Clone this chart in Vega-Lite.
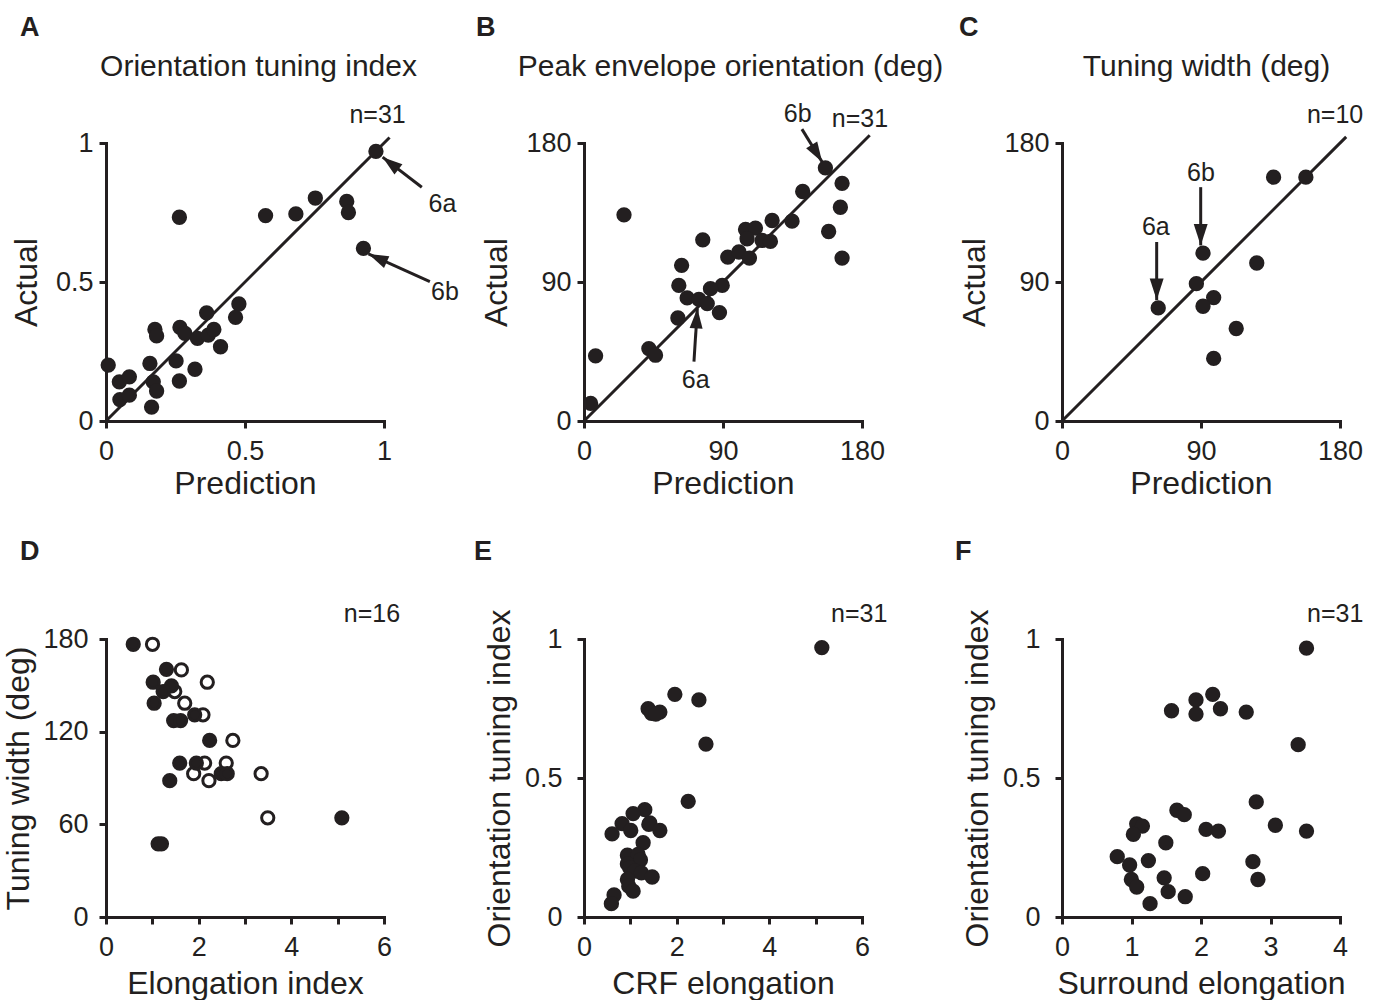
{
  "$schema": "https://vega.github.io/schema/vega-lite/v6.json",
  "padding": {"left": 2, "top": 14, "right": 5, "bottom": 5},
  "background": "white",
  "bounds": "flush",
  "columns": 3,
  "spacing": {"row": 218, "column": 200},
  "config": {
    "font": "Liberation Sans",
    "view": {"stroke": null},
    "axis": {
      "grid": false,
      "domainColor": "#231f20", "domainWidth": 3, "domainCap": "square",
      "tickColor": "#231f20", "tickWidth": 3, "tickSize": 7,
      "labelFont": "Liberation Sans", "labelFontSize": 27, "labelColor": "#231f20",
      "labelFlush": false, "labelOverlap": false,
      "titleFont": "Liberation Sans", "titleFontSize": 32, "titleFontWeight": "normal", "titleColor": "#231f20"
    },
    "axisX": {"labelPadding": 10, "titlePadding": 4},
    "axisY": {"labelPadding": 6, "titlePadding": 12},
    "title": {"anchor": "start", "frame": "group", "font": "Liberation Sans", "fontSize": 27, "fontWeight": "bold", "color": "#231f20", "baseline": "alphabetic"}
  },
  "concat": [
    {
      "width": 278, "height": 278,
      "title": {"text": "A", "dx": -86, "offset": 9},
      "resolve": {"axis": {"x": "independent", "y": "independent"}},
      "layer": [
        {
          "data": {"values": [{"x": 0, "y": 0}, {"x": 1.02, "y": 1.02}]},
          "mark": {"type": "line", "color": "#231f20", "strokeWidth": 3},
          "encoding": {
            "x": {"field": "x", "type": "quantitative", "scale": {"domain": [0, 1], "nice": false, "zero": false},
                  "axis": {"orient": "top", "title": "Orientation tuning index", "labels": false, "ticks": false, "domain": false, "titlePadding": 62, "titleFontSize": 30, "titleX": 152}},
            "y": {"field": "y", "type": "quantitative", "scale": {"domain": [0, 1], "nice": false, "zero": false}, "axis": null}
          }
        },
        {
          "data": {"values": [
            {"x": 0.971, "y": 0.970}, {"x": 0.264, "y": 0.733}, {"x": 0.574, "y": 0.739}, {"x": 0.683, "y": 0.745},
            {"x": 0.753, "y": 0.802}, {"x": 0.866, "y": 0.790}, {"x": 0.872, "y": 0.750}, {"x": 0.926, "y": 0.621},
            {"x": 0.478, "y": 0.421}, {"x": 0.466, "y": 0.373}, {"x": 0.362, "y": 0.389}, {"x": 0.176, "y": 0.329},
            {"x": 0.182, "y": 0.306}, {"x": 0.266, "y": 0.337}, {"x": 0.284, "y": 0.315}, {"x": 0.329, "y": 0.297},
            {"x": 0.368, "y": 0.309}, {"x": 0.388, "y": 0.329}, {"x": 0.412, "y": 0.267}, {"x": 0.008, "y": 0.201},
            {"x": 0.158, "y": 0.207}, {"x": 0.252, "y": 0.216}, {"x": 0.320, "y": 0.186}, {"x": 0.048, "y": 0.141},
            {"x": 0.084, "y": 0.159}, {"x": 0.170, "y": 0.141}, {"x": 0.182, "y": 0.108}, {"x": 0.264, "y": 0.144},
            {"x": 0.050, "y": 0.077}, {"x": 0.084, "y": 0.093}, {"x": 0.164, "y": 0.050}
          ]},
          "mark": {"type": "point", "filled": true, "size": 235, "color": "#231f20", "opacity": 1},
          "encoding": {
            "x": {"field": "x", "type": "quantitative", "scale": {"domain": [0, 1], "nice": false, "zero": false},
                  "axis": {"orient": "bottom", "title": "Prediction", "values": [0, 0.5, 1], "format": "~g"}},
            "y": {"field": "y", "type": "quantitative", "scale": {"domain": [0, 1], "nice": false, "zero": false},
                  "axis": {"orient": "left", "title": "Actual", "values": [0, 0.5, 1], "format": "~g"}}
          }
        },
        {
          "data": {"values": [
            {"id": "6a", "x": 1.136, "y": 0.841, "x2": 0.995, "y2": 0.949},
            {"id": "6b", "x": 1.165, "y": 0.501, "x2": 0.944, "y2": 0.601}
          ]},
          "mark": {"type": "rule", "color": "#231f20", "strokeWidth": 3},
          "encoding": {
            "x": {"field": "x", "type": "quantitative", "axis": null},
            "y": {"field": "y", "type": "quantitative", "axis": null},
            "x2": {"field": "x2"}, "y2": {"field": "y2"}
          }
        },
        {
          "data": {"values": [{"id": "6a", "x": 0.995, "y": 0.949}]},
          "mark": {"type": "point", "shape": "M0,0L0.65,2L-0.65,2Z", "size": 400, "angle": 307.6, "filled": true, "color": "#231f20", "opacity": 1},
          "encoding": {
            "x": {"field": "x", "type": "quantitative", "axis": null},
            "y": {"field": "y", "type": "quantitative", "axis": null}
          }
        },
        {
          "data": {"values": [{"id": "6b", "x": 0.944, "y": 0.601}]},
          "mark": {"type": "point", "shape": "M0,0L0.65,2L-0.65,2Z", "size": 400, "angle": 294.2, "filled": true, "color": "#231f20", "opacity": 1},
          "encoding": {
            "x": {"field": "x", "type": "quantitative", "axis": null},
            "y": {"field": "y", "type": "quantitative", "axis": null}
          }
        },
        {
          "data": {"values": [
            {"x": 1.21, "y": 0.753, "label": "6a"},
            {"x": 1.219, "y": 0.435, "label": "6b"},
            {"x": 0.977, "y": 1.071, "label": "n=31"}
          ]},
          "mark": {"type": "text", "fontSize": 25, "baseline": "alphabetic", "align": "center", "color": "#231f20", "font": "Liberation Sans"},
          "encoding": {
            "x": {"field": "x", "type": "quantitative", "axis": null},
            "y": {"field": "y", "type": "quantitative", "axis": null},
            "text": {"field": "label"}
          }
        }
      ]
    },
    {
      "width": 278, "height": 278,
      "title": {"text": "B", "dx": -108, "offset": 9},
      "resolve": {"axis": {"x": "independent", "y": "independent"}},
      "layer": [
        {
          "data": {"values": [{"x": 0, "y": 0}, {"x": 185, "y": 185}]},
          "mark": {"type": "line", "color": "#231f20", "strokeWidth": 3},
          "encoding": {
            "x": {"field": "x", "type": "quantitative", "scale": {"domain": [0, 180], "nice": false, "zero": false},
                  "axis": {"orient": "top", "title": "Peak envelope orientation (deg)", "labels": false, "ticks": false, "domain": false, "titlePadding": 62, "titleFontSize": 30, "titleX": 146}},
            "y": {"field": "y", "type": "quantitative", "scale": {"domain": [0, 180], "nice": false, "zero": false}, "axis": null}
          }
        },
        {
          "data": {"values": [
            {"x": 156.3, "y": 163.9}, {"x": 167.1, "y": 153.9}, {"x": 166.0, "y": 138.4}, {"x": 158.4, "y": 122.7},
            {"x": 167.1, "y": 105.5}, {"x": 141.6, "y": 148.6}, {"x": 134.7, "y": 129.4}, {"x": 121.8, "y": 129.8},
            {"x": 104.6, "y": 124.0}, {"x": 111.0, "y": 124.9}, {"x": 105.6, "y": 118.0}, {"x": 115.3, "y": 116.9},
            {"x": 120.7, "y": 116.3}, {"x": 93.1, "y": 106.1}, {"x": 100.3, "y": 109.4}, {"x": 107.1, "y": 105.5},
            {"x": 76.9, "y": 117.3}, {"x": 63.2, "y": 100.8}, {"x": 61.4, "y": 87.8}, {"x": 89.5, "y": 87.8},
            {"x": 81.9, "y": 85.7}, {"x": 66.8, "y": 79.7}, {"x": 74.4, "y": 78.8}, {"x": 79.8, "y": 76.0},
            {"x": 87.7, "y": 70.2}, {"x": 60.8, "y": 66.7}, {"x": 42.0, "y": 46.9}, {"x": 46.3, "y": 42.6},
            {"x": 7.5, "y": 42.2}, {"x": 25.9, "y": 133.5}, {"x": 4.3, "y": 11.4}
          ]},
          "mark": {"type": "point", "filled": true, "size": 235, "color": "#231f20", "opacity": 1},
          "encoding": {
            "x": {"field": "x", "type": "quantitative", "scale": {"domain": [0, 180], "nice": false, "zero": false},
                  "axis": {"orient": "bottom", "title": "Prediction", "values": [0, 90, 180]}},
            "y": {"field": "y", "type": "quantitative", "scale": {"domain": [0, 180], "nice": false, "zero": false},
                  "axis": {"orient": "left", "title": "Actual", "values": [0, 90, 180]}}
          }
        },
        {
          "data": {"values": [
            {"id": "6b", "x": 141.1, "y": 189.0, "x2": 154.2, "y2": 167.7},
            {"id": "6a", "x": 71.2, "y": 38.5, "x2": 73.4, "y2": 72.9}
          ]},
          "mark": {"type": "rule", "color": "#231f20", "strokeWidth": 3},
          "encoding": {
            "x": {"field": "x", "type": "quantitative", "axis": null},
            "y": {"field": "y", "type": "quantitative", "axis": null},
            "x2": {"field": "x2"}, "y2": {"field": "y2"}
          }
        },
        {
          "data": {"values": [{"id": "6b", "x": 154.2, "y": 167.7}]},
          "mark": {"type": "point", "shape": "M0,0L0.65,2L-0.65,2Z", "size": 400, "angle": 148.4, "filled": true, "color": "#231f20", "opacity": 1},
          "encoding": {
            "x": {"field": "x", "type": "quantitative", "axis": null},
            "y": {"field": "y", "type": "quantitative", "axis": null}
          }
        },
        {
          "data": {"values": [{"id": "6a", "x": 73.4, "y": 72.9}]},
          "mark": {"type": "point", "shape": "M0,0L0.65,2L-0.65,2Z", "size": 400, "angle": 3.6, "filled": true, "color": "#231f20", "opacity": 1},
          "encoding": {
            "x": {"field": "x", "type": "quantitative", "axis": null},
            "y": {"field": "y", "type": "quantitative", "axis": null}
          }
        },
        {
          "data": {"values": [
            {"x": 138.4, "y": 193.4, "label": "6b"},
            {"x": 178.7, "y": 190.1, "label": "n=31"},
            {"x": 72.3, "y": 21.3, "label": "6a"}
          ]},
          "mark": {"type": "text", "fontSize": 25, "baseline": "alphabetic", "align": "center", "color": "#231f20", "font": "Liberation Sans"},
          "encoding": {
            "x": {"field": "x", "type": "quantitative", "axis": null},
            "y": {"field": "y", "type": "quantitative", "axis": null},
            "text": {"field": "label"}
          }
        }
      ]
    },
    {
      "width": 278, "height": 278,
      "title": {"text": "C", "dx": -103, "offset": 9},
      "resolve": {"axis": {"x": "independent", "y": "independent"}},
      "layer": [
        {
          "data": {"values": [{"x": 0, "y": 0}, {"x": 184, "y": 184}]},
          "mark": {"type": "line", "color": "#231f20", "strokeWidth": 3},
          "encoding": {
            "x": {"field": "x", "type": "quantitative", "scale": {"domain": [0, 180], "nice": false, "zero": false},
                  "axis": {"orient": "top", "title": "Tuning width (deg)", "labels": false, "ticks": false, "domain": false, "titlePadding": 62, "titleFontSize": 30, "titleX": 144}},
            "y": {"field": "y", "type": "quantitative", "scale": {"domain": [0, 180], "nice": false, "zero": false}, "axis": null}
          }
        },
        {
          "data": {"values": [
            {"x": 137.0, "y": 157.9}, {"x": 157.9, "y": 157.9}, {"x": 91.3, "y": 108.7}, {"x": 126.1, "y": 102.3},
            {"x": 87.0, "y": 88.9}, {"x": 98.2, "y": 79.9}, {"x": 91.3, "y": 74.3}, {"x": 62.3, "y": 73.2},
            {"x": 112.8, "y": 59.9}, {"x": 98.2, "y": 40.5}
          ]},
          "mark": {"type": "point", "filled": true, "size": 235, "color": "#231f20", "opacity": 1},
          "encoding": {
            "x": {"field": "x", "type": "quantitative", "scale": {"domain": [0, 180], "nice": false, "zero": false},
                  "axis": {"orient": "bottom", "title": "Prediction", "values": [0, 90, 180]}},
            "y": {"field": "y", "type": "quantitative", "scale": {"domain": [0, 180], "nice": false, "zero": false},
                  "axis": {"orient": "left", "title": "Actual", "values": [0, 90, 180]}}
          }
        },
        {
          "data": {"values": [
            {"id": "6a", "x": 61.3, "y": 115.9, "x2": 61.3, "y2": 78.3},
            {"id": "6b", "x": 89.8, "y": 151.4, "x2": 89.8, "y2": 113.7}
          ]},
          "layer": [
            {
              "mark": {"type": "rule", "color": "#231f20", "strokeWidth": 3},
              "encoding": {
                "x": {"field": "x", "type": "quantitative", "axis": null},
                "y": {"field": "y", "type": "quantitative", "axis": null},
                "x2": {"field": "x2"}, "y2": {"field": "y2"}
              }
            },
            {
              "mark": {"type": "point", "shape": "M0,0L0.65,2L-0.65,2Z", "size": 460, "angle": 180, "filled": true, "color": "#231f20", "opacity": 1},
              "encoding": {
                "x": {"field": "x2", "type": "quantitative", "axis": null},
                "y": {"field": "y2", "type": "quantitative", "axis": null}
              }
            }
          ]
        },
        {
          "data": {"values": [
            {"x": 60.75, "y": 120.6, "label": "6a"},
            {"x": 90.0, "y": 155.7, "label": "6b"},
            {"x": 176.8, "y": 192.9, "label": "n=10"}
          ]},
          "mark": {"type": "text", "fontSize": 25, "baseline": "alphabetic", "align": "center", "color": "#231f20", "font": "Liberation Sans"},
          "encoding": {
            "x": {"field": "x", "type": "quantitative", "axis": null},
            "y": {"field": "y", "type": "quantitative", "axis": null},
            "text": {"field": "label"}
          }
        }
      ]
    },
    {
      "width": 278, "height": 278,
      "title": {"text": "D", "dx": -86, "offset": 36},
      "resolve": {"axis": {"x": "independent", "y": "independent"}},
      "layer": [
        {
          "data": {"values": [
            {"x": 0.588, "y": 176.6, "kind": "filled"}, {"x": 1.004, "y": 176.6, "kind": "open"},
            {"x": 1.305, "y": 160.4, "kind": "filled"}, {"x": 1.627, "y": 160.0, "kind": "open"},
            {"x": 1.018, "y": 152.0, "kind": "filled"}, {"x": 2.186, "y": 152.0, "kind": "open"},
            {"x": 1.484, "y": 146.0, "kind": "open"}, {"x": 1.412, "y": 149.6, "kind": "filled"},
            {"x": 1.233, "y": 146.0, "kind": "filled"}, {"x": 1.699, "y": 138.4, "kind": "open"},
            {"x": 1.039, "y": 138.4, "kind": "filled"}, {"x": 2.093, "y": 130.9, "kind": "open"},
            {"x": 1.914, "y": 130.9, "kind": "filled"}, {"x": 1.46, "y": 127.2, "kind": "filled"},
            {"x": 1.61, "y": 127.2, "kind": "filled"}, {"x": 2.237, "y": 114.3, "kind": "filled"},
            {"x": 2.738, "y": 114.3, "kind": "open"}, {"x": 2.129, "y": 99.7, "kind": "open"},
            {"x": 2.595, "y": 99.7, "kind": "open"}, {"x": 1.892, "y": 92.8, "kind": "open"},
            {"x": 2.222, "y": 88.3, "kind": "open"}, {"x": 1.591, "y": 99.7, "kind": "filled"},
            {"x": 1.95, "y": 99.7, "kind": "filled"}, {"x": 1.376, "y": 88.3, "kind": "filled"},
            {"x": 2.487, "y": 92.8, "kind": "filled"}, {"x": 2.616, "y": 92.8, "kind": "filled"},
            {"x": 3.348, "y": 92.8, "kind": "open"}, {"x": 3.491, "y": 64.2, "kind": "open"},
            {"x": 5.09, "y": 64.2, "kind": "filled"}, {"x": 1.125, "y": 47.4, "kind": "filled"},
            {"x": 1.197, "y": 47.4, "kind": "filled"}
          ]},
          "mark": {"type": "point", "filled": true, "size": 150, "stroke": "#231f20", "strokeWidth": 3, "opacity": 1},
          "encoding": {
            "x": {"field": "x", "type": "quantitative", "scale": {"domain": [0, 6], "nice": false, "zero": false},
                  "axis": {"orient": "bottom", "title": "Elongation index", "titlePadding": 8, "values": [0, 1, 2, 3, 4, 5, 6], "labelExpr": "datum.value % 2 == 0 ? datum.label : ''"}},
            "y": {"field": "y", "type": "quantitative", "scale": {"domain": [0, 180], "nice": false, "zero": false},
                  "axis": {"orient": "left", "title": "Tuning width (deg)", "labelPadding": 11, "titlePadding": 7, "values": [0, 60, 120, 180]}},
            "fill": {"field": "kind", "type": "nominal", "scale": {"domain": ["filled", "open"], "range": ["#231f20", "#ffffff"]}, "legend": null}
          }
        },
        {
          "data": {"values": [{"x": 5.74, "y": 191.2, "label": "n=16"}]},
          "mark": {"type": "text", "fontSize": 25, "baseline": "alphabetic", "align": "center", "color": "#231f20", "font": "Liberation Sans"},
          "encoding": {
            "x": {"field": "x", "type": "quantitative", "axis": null},
            "y": {"field": "y", "type": "quantitative", "axis": null},
            "text": {"field": "label"}
          }
        }
      ]
    },
    {
      "width": 278, "height": 278,
      "title": {"text": "E", "dx": -110, "offset": 36},
      "resolve": {"axis": {"x": "independent", "y": "independent"}},
      "layer": [
        {
          "data": {"values": [
            {"x": 5.133, "y": 0.969}, {"x": 1.961, "y": 0.801}, {"x": 2.48, "y": 0.781}, {"x": 1.384, "y": 0.749},
            {"x": 1.456, "y": 0.733}, {"x": 1.637, "y": 0.737}, {"x": 1.55, "y": 0.73}, {"x": 2.632, "y": 0.622},
            {"x": 2.249, "y": 0.416}, {"x": 1.312, "y": 0.386}, {"x": 1.06, "y": 0.372}, {"x": 0.822, "y": 0.336},
            {"x": 1.009, "y": 0.311}, {"x": 0.606, "y": 0.299}, {"x": 1.399, "y": 0.333}, {"x": 1.42, "y": 0.338},
            {"x": 1.637, "y": 0.311}, {"x": 1.276, "y": 0.267}, {"x": 0.937, "y": 0.222}, {"x": 1.168, "y": 0.225},
            {"x": 1.218, "y": 0.205}, {"x": 0.937, "y": 0.191}, {"x": 0.988, "y": 0.177}, {"x": 1.096, "y": 0.165},
            {"x": 1.24, "y": 0.159}, {"x": 1.471, "y": 0.144}, {"x": 0.937, "y": 0.135}, {"x": 0.966, "y": 0.111},
            {"x": 1.06, "y": 0.093}, {"x": 0.649, "y": 0.079}, {"x": 0.591, "y": 0.048}
          ]},
          "mark": {"type": "point", "filled": true, "size": 235, "color": "#231f20", "opacity": 1},
          "encoding": {
            "x": {"field": "x", "type": "quantitative", "scale": {"domain": [0, 6], "nice": false, "zero": false},
                  "axis": {"orient": "bottom", "title": "CRF elongation", "titlePadding": 8, "values": [0, 1, 2, 3, 4, 5, 6], "labelExpr": "datum.value % 2 == 0 ? datum.label : ''"}},
            "y": {"field": "y", "type": "quantitative", "scale": {"domain": [0, 1], "nice": false, "zero": false},
                  "axis": {"orient": "left", "title": "Orientation tuning index", "labelPadding": 15, "titlePadding": 8, "values": [0, 0.5, 1], "format": "~g"}}
          }
        },
        {
          "data": {"values": [{"x": 5.94, "y": 1.061, "label": "n=31"}]},
          "mark": {"type": "text", "fontSize": 25, "baseline": "alphabetic", "align": "center", "color": "#231f20", "font": "Liberation Sans"},
          "encoding": {
            "x": {"field": "x", "type": "quantitative", "axis": null},
            "y": {"field": "y", "type": "quantitative", "axis": null},
            "text": {"field": "label"}
          }
        }
      ]
    },
    {
      "width": 278, "height": 278,
      "title": {"text": "F", "dx": -107, "offset": 36},
      "resolve": {"axis": {"x": "independent", "y": "independent"}},
      "layer": [
        {
          "data": {"values": [
            {"x": 3.518, "y": 0.967}, {"x": 2.169, "y": 0.801}, {"x": 1.928, "y": 0.781}, {"x": 2.28, "y": 0.749},
            {"x": 1.928, "y": 0.730}, {"x": 1.576, "y": 0.742}, {"x": 2.651, "y": 0.737}, {"x": 3.398, "y": 0.620},
            {"x": 2.795, "y": 0.414}, {"x": 1.653, "y": 0.384}, {"x": 1.759, "y": 0.368}, {"x": 1.075, "y": 0.335},
            {"x": 1.157, "y": 0.327}, {"x": 1.027, "y": 0.297}, {"x": 2.072, "y": 0.315}, {"x": 2.251, "y": 0.309},
            {"x": 3.07, "y": 0.330}, {"x": 3.518, "y": 0.309}, {"x": 1.494, "y": 0.267}, {"x": 0.795, "y": 0.217},
            {"x": 0.973, "y": 0.187}, {"x": 1.243, "y": 0.203}, {"x": 0.998, "y": 0.135}, {"x": 1.075, "y": 0.108},
            {"x": 1.47, "y": 0.141}, {"x": 1.528, "y": 0.091}, {"x": 1.267, "y": 0.048}, {"x": 1.773, "y": 0.073},
            {"x": 2.024, "y": 0.156}, {"x": 2.747, "y": 0.199}, {"x": 2.819, "y": 0.135}
          ]},
          "mark": {"type": "point", "filled": true, "size": 235, "color": "#231f20", "opacity": 1},
          "encoding": {
            "x": {"field": "x", "type": "quantitative", "scale": {"domain": [0, 4], "nice": false, "zero": false},
                  "axis": {"orient": "bottom", "title": "Surround elongation", "titlePadding": 8, "values": [0, 1, 2, 3, 4]}},
            "y": {"field": "y", "type": "quantitative", "scale": {"domain": [0, 1], "nice": false, "zero": false},
                  "axis": {"orient": "left", "title": "Orientation tuning index", "labelPadding": 15, "titlePadding": 8, "values": [0, 0.5, 1], "format": "~g"}}
          }
        },
        {
          "data": {"values": [{"x": 3.93, "y": 1.061, "label": "n=31"}]},
          "mark": {"type": "text", "fontSize": 25, "baseline": "alphabetic", "align": "center", "color": "#231f20", "font": "Liberation Sans"},
          "encoding": {
            "x": {"field": "x", "type": "quantitative", "axis": null},
            "y": {"field": "y", "type": "quantitative", "axis": null},
            "text": {"field": "label"}
          }
        }
      ]
    }
  ]
}
